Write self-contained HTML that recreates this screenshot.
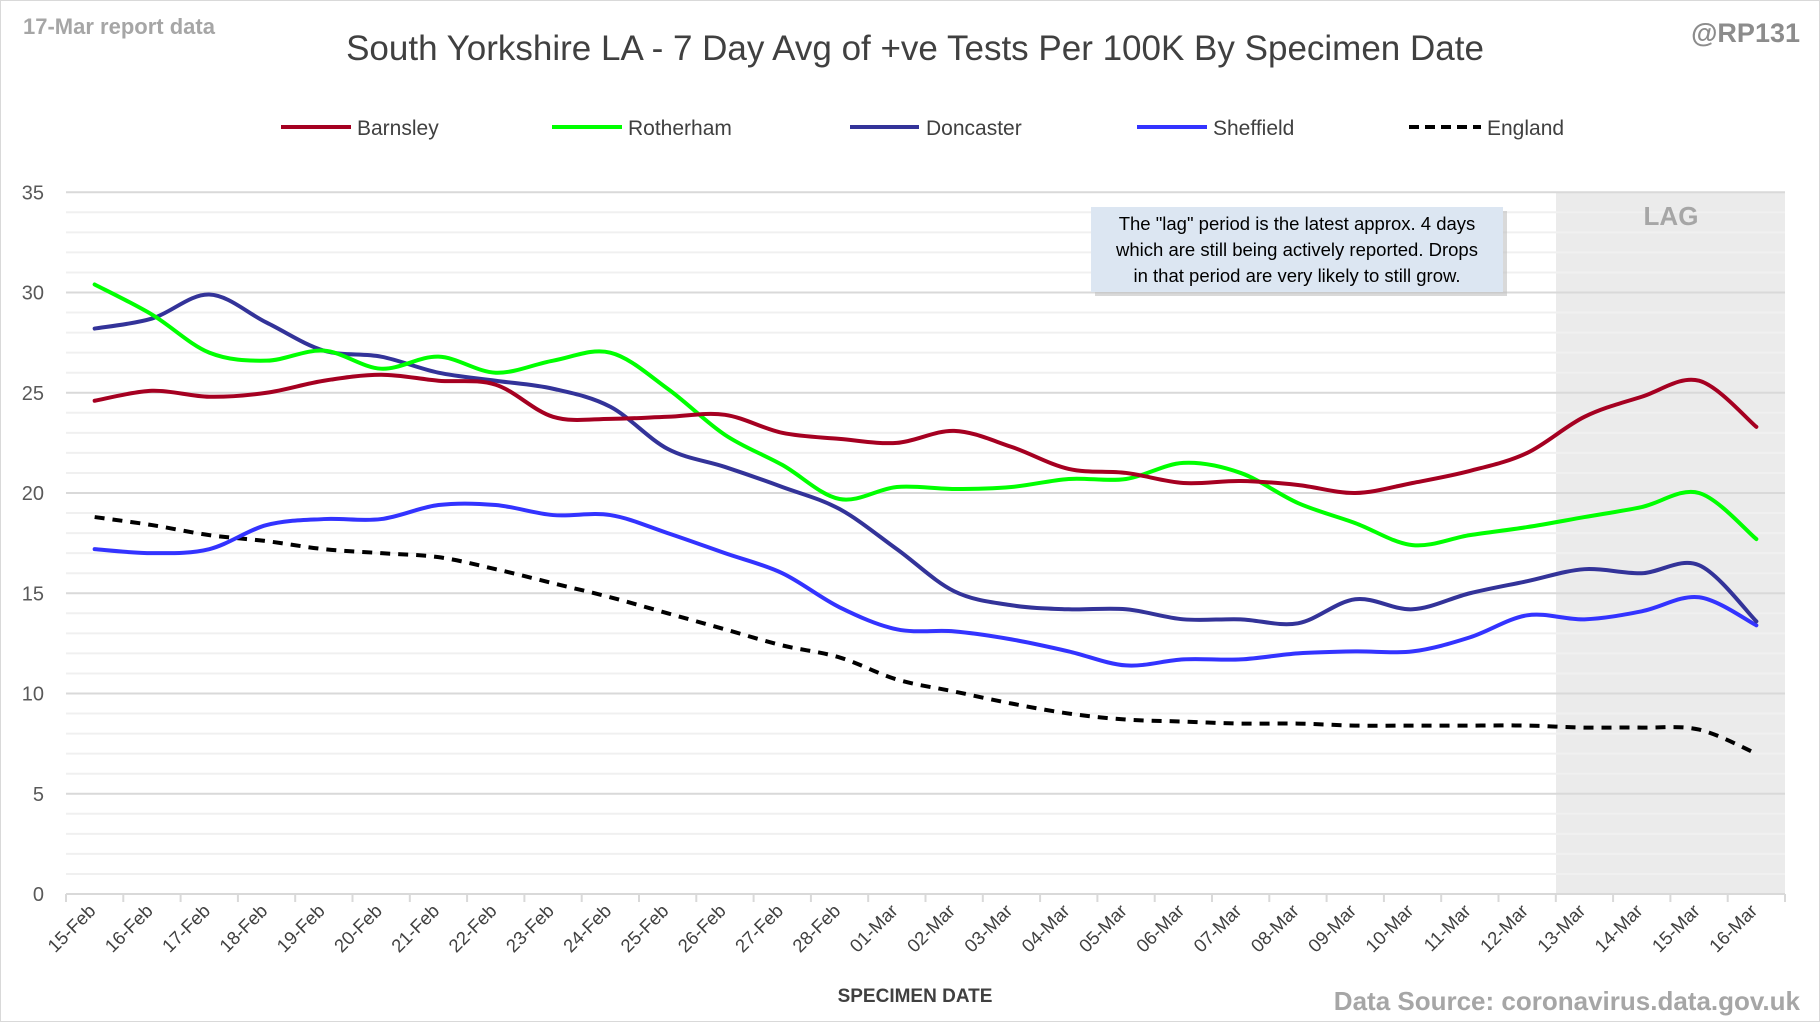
<!DOCTYPE html>
<html><head><meta charset="utf-8"><style>
html,body{margin:0;padding:0;background:#fff}
svg{display:block;font-family:"Liberation Sans",sans-serif}
</style></head><body>
<svg id="c" width="1820" height="1022" viewBox="0 0 1820 1022" xmlns="http://www.w3.org/2000/svg">
<rect x="0.5" y="0.5" width="1819" height="1021" fill="#fff" stroke="#d9d9d9"/>
<rect x="1556" y="192" width="229" height="702" fill="#ebebeb"/>
<g id="grid"></g>
<text x="23" y="34" font-size="22" font-weight="bold" fill="#a6a6a6">17-Mar report data</text>
<text x="1800" y="42" font-size="27" font-weight="bold" fill="#8c8c8c" text-anchor="end">@RP131</text>
<text x="915" y="60" font-size="35" fill="#404040" text-anchor="middle">South Yorkshire LA - 7 Day Avg of +ve Tests Per 100K By Specimen Date</text>
<g font-size="21" fill="#404040">
<line x1="281" y1="127" x2="351" y2="127" stroke="#a50021" stroke-width="4"/><text x="357" y="135">Barnsley</text>
<line x1="552" y1="127" x2="622" y2="127" stroke="#00ff00" stroke-width="4"/><text x="628" y="135">Rotherham</text>
<line x1="850" y1="127" x2="919" y2="127" stroke="#333399" stroke-width="4"/><text x="926" y="135">Doncaster</text>
<line x1="1137" y1="127" x2="1207" y2="127" stroke="#3333ff" stroke-width="4"/><text x="1213" y="135">Sheffield</text>
<line x1="1409" y1="127" x2="1481" y2="127" stroke="#000" stroke-width="4" stroke-dasharray="10,6"/><text x="1487" y="135">England</text>
</g>
<text x="1671" y="225" font-size="26" font-weight="bold" fill="#a6a6a6" text-anchor="middle">LAG</text>
<g id="series"></g>
<rect x="1095" y="211" width="412" height="85" fill="#bfbfbf" opacity="0.6"/>
<rect x="1091" y="207" width="412" height="85" fill="#dce6f2"/>
<g font-size="18.5" fill="#000" text-anchor="middle">
<text x="1297" y="230">The "lag" period is the latest approx. 4 days</text>
<text x="1297" y="256">which are still being actively reported.  Drops</text>
<text x="1297" y="282">in that period are very likely to still grow.</text>
</g>
<g id="xl" font-size="18.5" fill="#404040"></g>
<text x="915" y="1002" font-size="19" font-weight="bold" fill="#404040" text-anchor="middle">SPECIMEN DATE</text>
<text x="1800" y="1010" font-size="26" font-weight="bold" fill="#a6a6a6" text-anchor="end">Data Source: coronavirus.data.gov.uk</text>
</svg>
<script>
var NS="http://www.w3.org/2000/svg";
function el(p,t,a,txt){var e=document.createElementNS(NS,t);for(var k in a)e.setAttribute(k,a[k]);if(txt!=null)e.textContent=txt;p.appendChild(e);return e;}
var L=66,R=1785,Y0=894,PU=20.05,N=30,W=(R-L)/N;
function Y(v){return Y0-v*PU;}
function X(i){return L+W*(i+0.5);}
var g=document.getElementById('grid');
for(var v=0;v<=35;v++){el(g,'line',{x1:L,x2:R,y1:Y(v),y2:Y(v),stroke:v%5==0?'#d9d9d9':'#f0f0f0','stroke-width':v%5==0?2:2});}
for(var v=0;v<=35;v+=5){el(g,'text',{x:44,y:Y(v)+7,'font-size':20,fill:'#595959','text-anchor':'end'},v);}
el(g,'line',{x1:L,x2:R,y1:Y0,y2:Y0,stroke:'#d9d9d9','stroke-width':2});
for(var i=0;i<=N;i++){el(g,'line',{x1:L+W*i,x2:L+W*i,y1:Y0,y2:Y0+8,stroke:'#d9d9d9','stroke-width':2});}
var labels=[];for(var d=15;d<=28;d++)labels.push(d+'-Feb');for(var d=1;d<=16;d++)labels.push((d<10?'0':'')+d+'-Mar');
var xl=document.getElementById('xl');
labels.forEach(function(t,i){var x=X(i)+2,y=912;el(xl,'text',{x:x,y:y,'text-anchor':'end',transform:'rotate(-45 '+x+' '+y+')'},t);});
var data={
b:[24.6,25.1,24.8,25.0,25.6,25.9,25.6,25.4,23.8,23.7,23.8,23.9,23.0,22.7,22.5,23.1,22.3,21.2,21.0,20.5,20.6,20.4,20.0,20.5,21.1,22.0,23.8,24.8,25.6,23.3],
r:[30.4,28.9,27.0,26.6,27.1,26.2,26.8,26.0,26.6,27.0,25.2,22.9,21.4,19.7,20.3,20.2,20.3,20.7,20.7,21.5,21.0,19.5,18.5,17.4,17.9,18.3,18.8,19.3,20.0,17.7],
d:[28.2,28.7,29.9,28.5,27.1,26.8,26.0,25.6,25.2,24.3,22.2,21.3,20.3,19.2,17.2,15.1,14.4,14.2,14.2,13.7,13.7,13.5,14.7,14.2,15.0,15.6,16.2,16.0,16.4,13.6],
s:[17.2,17.0,17.2,18.4,18.7,18.7,19.4,19.4,18.9,18.9,18.0,17.0,16.0,14.3,13.2,13.1,12.7,12.1,11.4,11.7,11.7,12.0,12.1,12.1,12.8,13.9,13.7,14.1,14.8,13.4],
e:[18.8,18.4,17.9,17.6,17.2,17.0,16.8,16.2,15.5,14.8,14.0,13.2,12.4,11.8,10.7,10.1,9.5,9.0,8.7,8.6,8.5,8.5,8.4,8.4,8.4,8.4,8.3,8.3,8.2,7.0]};
function path(a){var p=a.map(function(v,i){return [X(i),Y(v)];});var s='M'+p[0][0]+','+p[0][1];
for(var i=0;i<p.length-1;i++){var p0=p[i-1]||p[i],p1=p[i],p2=p[i+1],p3=p[i+2]||p2,t=6;
s+=' C'+(p1[0]+(p2[0]-p0[0])/t)+','+(p1[1]+(p2[1]-p0[1])/t)+' '+(p2[0]-(p3[0]-p1[0])/t)+','+(p2[1]-(p3[1]-p1[1])/t)+' '+p2[0]+','+p2[1];}return s;}
var sg=document.getElementById('series');
[['e','#000',1],['s','#3333ff'],['d','#333399'],['r','#00ff00'],['b','#a50021']].forEach(function(o){
var a={d:path(data[o[0]]),fill:'none',stroke:o[1],'stroke-width':4,'stroke-linecap':'round'};
if(o[2]){a['stroke-dasharray']='10,8';a['stroke-linecap']='butt';}el(sg,'path',a);});
</script>
</body></html>
